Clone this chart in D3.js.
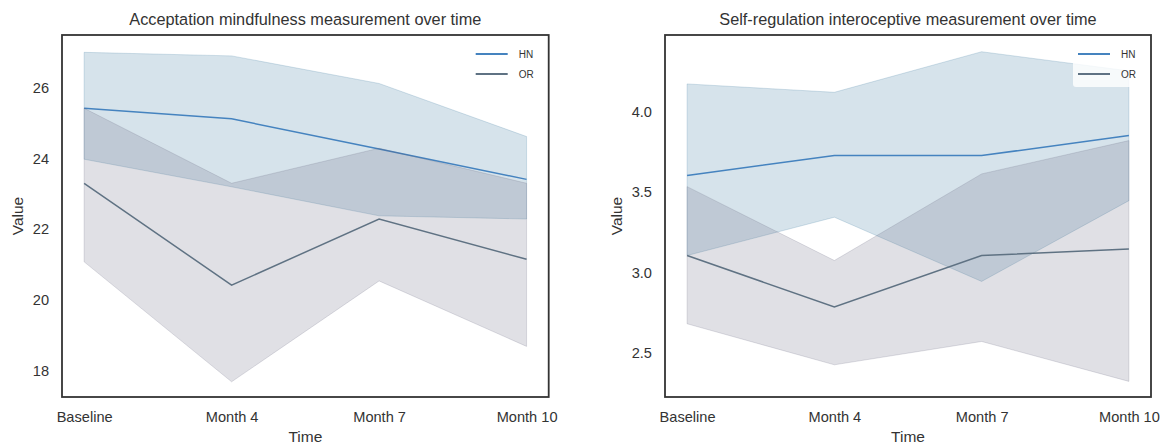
<!DOCTYPE html>
<html><head><meta charset="utf-8">
<script src="https://cdn.jsdelivr.net/npm/d3@7"></script>
<style>body{margin:0;background:#fff;} text{font-family:"Liberation Sans",Arial,sans-serif;fill:#333;}</style>
</head><body>
<svg id="c" width="1168" height="447"></svg>
<script>
const categories = ["Baseline", "Month 4", "Month 7", "Month 10"];
const seriesNames = ["HN", "OR"];

// Left chart: Acceptation mindfulness
const accHNMean  = [25.42, 25.12, 24.27, 23.41];
const accHNLow   = [23.98, 23.20, 22.38, 22.29];
const accHNHigh  = [27.00, 26.90, 26.12, 24.62];
const accORMean  = [23.30, 20.42, 22.29, 21.15];
const accORLow   = [21.08, 17.69, 20.54, 18.69];
const accORHigh  = [25.42, 23.30, 24.29, 23.30];
const accTicks   = [18, 20, 22, 24, 26];

// Right chart: Self-regulation interoceptive
const selHNMean  = [3.603, 3.727, 3.727, 3.851];
const selHNLow   = [3.106, 3.344, 2.945, 3.447];
const selHNHigh  = [4.172, 4.120, 4.372, 4.253];
const selORMean  = [3.106, 2.786, 3.106, 3.146];
const selORLow   = [2.682, 2.427, 2.572, 2.324];
const selORHigh  = [3.534, 3.075, 3.613, 3.820];
const selTicks   = [2.5, 3.0, 3.5, 4.0];

const colors = {HN: {line: "#4583bf", band: "#32739b"}, OR: {line: "#5f7283", band: "#64647d"}};

const svg = d3.select("#c");

function panel(cfg) {
  const g = svg.append("g");
  const x = d3.scalePoint().domain(categories).range([cfg.x0, cfg.x1]).padding(0.15);
  const y = d3.scaleLinear().domain(cfg.domain).range([cfg.y1, cfg.y0]);

  const series = [
    {name: "HN", mean: cfg.hn[0], low: cfg.hn[1], high: cfg.hn[2]},
    {name: "OR", mean: cfg.or[0], low: cfg.or[1], high: cfg.or[2]}
  ];
  const area = d3.area().x((d) => x(d.c)).y0((d) => y(d.lo)).y1((d) => y(d.hi));
  const line = d3.line().x((d) => x(d.c)).y((d) => y(d.v));

  series.forEach((s) => {
    const ad = categories.map((c, i) => ({c, lo: s.low[i], hi: s.high[i]}));
    g.append("path").attr("d", area(ad))
      .attr("fill", colors[s.name].band).attr("fill-opacity", 0.2)
      .attr("stroke", colors[s.name].band).attr("stroke-opacity", 0.2).attr("stroke-width", 1);
    const ld = categories.map((c, i) => ({c, v: s.mean[i]}));
    g.append("path").attr("d", line(ld)).attr("fill", "none")
      .attr("stroke", colors[s.name].line).attr("stroke-width", 1.5);
  });

  // legend
  const lg = g.append("g");
  lg.append("rect").attr("x", cfg.x1 - 78).attr("y", cfg.y0 + 6).attr("width", 71).attr("height", 46)
    .attr("rx", 3).attr("fill", "#fff").attr("fill-opacity", 0.8);
  seriesNames.forEach((n, i) => {
    const yy = cfg.y0 + 19 + i * 20;
    lg.append("line").attr("x1", cfg.x1 - 73).attr("x2", cfg.x1 - 41).attr("y1", yy).attr("y2", yy)
      .attr("stroke", colors[n].line).attr("stroke-width", 2);
    lg.append("text").attr("x", cfg.x1 - 30).attr("y", yy + 3.5).attr("font-size", 10).text(n);
  });

  // frame
  g.append("rect").attr("x", cfg.x0).attr("y", cfg.y0).attr("width", cfg.x1 - cfg.x0).attr("height", cfg.y1 - cfg.y0)
    .attr("fill", "none").attr("stroke", "#333").attr("stroke-width", 1.8);

  // axes
  const xa = g.append("g").attr("transform", `translate(0,${cfg.y1})`)
    .call(d3.axisBottom(x).tickSize(0).tickPadding(15));
  xa.select(".domain").remove();
  xa.selectAll("text").attr("font-size", 14.6).attr("fill", "#333").attr("font-family", "Liberation Sans, Arial, sans-serif");

  const ya = g.append("g").attr("transform", `translate(${cfg.x0},0)`)
    .call(d3.axisLeft(y).tickValues(cfg.ticks).tickSize(0).tickPadding(13).tickFormat(cfg.fmt));
  ya.select(".domain").remove();
  ya.selectAll("text").attr("font-size", 14.6).attr("fill", "#333").attr("font-family", "Liberation Sans, Arial, sans-serif");

  g.append("text").attr("x", (cfg.x0 + cfg.x1) / 2).attr("y", 25).attr("text-anchor", "middle")
    .attr("font-size", 16.3).text(cfg.title);
  g.append("text").attr("x", (cfg.x0 + cfg.x1) / 2).attr("y", 442).attr("text-anchor", "middle")
    .attr("font-size", 15.5).text("Time");
  g.append("text").attr("transform", `translate(${cfg.vx},${(cfg.y0 + cfg.y1) / 2}) rotate(-90)`)
    .attr("text-anchor", "middle").attr("dy", "0.35em").attr("font-size", 15.5).text("Value");
}

panel({x0: 62, x1: 548.7, y0: 35, y1: 397, domain: [17.26, 27.49], ticks: accTicks, fmt: d3.format("d"),
  hn: [accHNMean, accHNLow, accHNHigh], or: [accORMean, accORLow, accORHigh],
  title: "Acceptation mindfulness measurement over time", vx: 17.5});
panel({x0: 665, x1: 1151, y0: 35, y1: 397, domain: [2.227, 4.476], ticks: selTicks, fmt: d3.format(".1f"),
  hn: [selHNMean, selHNLow, selHNHigh], or: [selORMean, selORLow, selORHigh],
  title: "Self-regulation interoceptive measurement over time", vx: 617});
</script>
</body></html>
